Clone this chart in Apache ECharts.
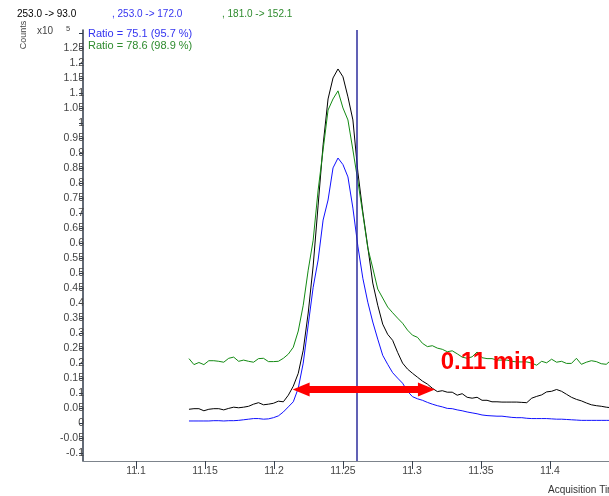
<!DOCTYPE html>
<html lang="en">
<head>
  <meta charset="UTF-8">
  <title>EIC 253.0</title>
  <script src="https://cdn.jsdelivr.net/npm/echarts@6.0.0/dist/echarts.min.js"></script>
  <style>
    html, body { margin: 0; padding: 0; background: #fff; }
    #chart { width: 609px; height: 496px; }
  </style>
</head>
<body>
<div id="chart"></div>
<script>
  // acquisition times (min)
  var times = [11.1384, 11.1420, 11.1456, 11.1492, 11.1528, 11.1564, 11.1600, 11.1636, 11.1672, 11.1708,
    11.1744, 11.1780, 11.1816, 11.1852, 11.1888, 11.1924, 11.1960, 11.1996, 11.2032, 11.2068,
    11.2104, 11.2140, 11.2176, 11.2212, 11.2248, 11.2284, 11.2320, 11.2356, 11.2392, 11.2428,
    11.2464, 11.2500, 11.2536, 11.2572, 11.2608, 11.2644, 11.2680, 11.2716, 11.2752, 11.2788,
    11.2824, 11.2860, 11.2896, 11.2932, 11.2968, 11.3004, 11.3040, 11.3076, 11.3112, 11.3148,
    11.3184, 11.3220, 11.3256, 11.3292, 11.3328, 11.3364, 11.3400, 11.3436, 11.3472, 11.3508,
    11.3544, 11.3580, 11.3616, 11.3652, 11.3688, 11.3724, 11.3760, 11.3796, 11.3832, 11.3868,
    11.3904, 11.3940, 11.3976, 11.4012, 11.4048, 11.4084, 11.4120, 11.4156, 11.4192, 11.4228,
    11.4264, 11.4300, 11.4336, 11.4372, 11.4408, 11.4444];

  // counts x10^5, 253.0 -> 93.0 (black)
  var counts93 = [0.045, 0.047, 0.047, 0.040, 0.045, 0.047, 0.047, 0.043, 0.048, 0.052,
    0.050, 0.052, 0.055, 0.062, 0.067, 0.060, 0.062, 0.065, 0.072, 0.070,
    0.092, 0.122, 0.165, 0.242, 0.366, 0.523, 0.726, 0.927, 1.080, 1.150,
    1.180, 1.154, 1.087, 1.010, 0.836, 0.703, 0.586, 0.466, 0.392, 0.329,
    0.295, 0.275, 0.235, 0.199, 0.179, 0.165, 0.152, 0.139, 0.129, 0.115,
    0.104, 0.107, 0.102, 0.102, 0.092, 0.097, 0.085, 0.082, 0.085, 0.075,
    0.075, 0.070, 0.070, 0.069, 0.069, 0.069, 0.069, 0.068, 0.067, 0.082,
    0.088, 0.093, 0.103, 0.105, 0.111, 0.105, 0.095, 0.085, 0.078, 0.073,
    0.066, 0.060, 0.057, 0.055, 0.052, 0.050];

  // 253.0 -> 172.0 (blue)
  var counts172 = [0.006, 0.006, 0.006, 0.006, 0.006, 0.007, 0.007, 0.006, 0.007, 0.007,
    0.008, 0.010, 0.012, 0.014, 0.014, 0.012, 0.013, 0.017, 0.023, 0.036,
    0.053, 0.070, 0.115, 0.199, 0.326, 0.452, 0.543, 0.676, 0.743, 0.850,
    0.883, 0.861, 0.820, 0.716, 0.589, 0.482, 0.402, 0.336, 0.279, 0.225,
    0.195, 0.167, 0.149, 0.132, 0.105, 0.087, 0.080, 0.075, 0.068, 0.062,
    0.057, 0.053, 0.048, 0.047, 0.043, 0.040, 0.036, 0.033, 0.030, 0.026,
    0.024, 0.023, 0.022, 0.022, 0.020, 0.018, 0.017, 0.017, 0.015, 0.014,
    0.014, 0.014, 0.014, 0.013, 0.012, 0.012, 0.011, 0.010, 0.009, 0.008,
    0.008, 0.008, 0.008, 0.008, 0.008, 0.008];

  // 181.0 -> 152.1 (green)
  var counts152 = [0.214, 0.194, 0.201, 0.194, 0.207, 0.207, 0.205, 0.202, 0.215, 0.219,
    0.205, 0.209, 0.205, 0.202, 0.214, 0.215, 0.204, 0.204, 0.205, 0.215,
    0.229, 0.252, 0.306, 0.392, 0.509, 0.609, 0.776, 0.910, 1.043, 1.080,
    1.107, 1.050, 1.010, 0.910, 0.806, 0.696, 0.583, 0.516, 0.446, 0.416,
    0.386, 0.367, 0.349, 0.332, 0.309, 0.292, 0.285, 0.265, 0.254, 0.257,
    0.249, 0.245, 0.237, 0.240, 0.230, 0.219, 0.215, 0.220, 0.236, 0.217,
    0.214, 0.214, 0.209, 0.209, 0.209, 0.205, 0.203, 0.203, 0.203, 0.199,
    0.192, 0.205, 0.200, 0.212, 0.202, 0.205, 0.198, 0.198, 0.215, 0.195,
    0.202, 0.207, 0.204, 0.197, 0.195, 0.209];

  var xTicks = [11.1, 11.15, 11.2, 11.25, 11.3, 11.35, 11.4];
  var yTicks = [-0.1, -0.05, 0, 0.05, 0.1, 0.15, 0.2, 0.25, 0.3, 0.35, 0.4, 0.45, 0.5, 0.55,
    0.6, 0.65, 0.7, 0.75, 0.8, 0.85, 0.9, 0.95, 1, 1.05, 1.1, 1.15, 1.2, 1.25];
  var yTopTick = 1.3;

  // annotations
  var markerTime = 11.2632;
  var widthArrow = [[11.2197, 0.111], [11.3105, 0.111]];
  var widthLabel = '0.11 min';
  var widthLabelAt = [11.3551, 0.2003];

  var font = '"Liberation Sans", Arial, sans-serif';

  function toPairs(vals) {
    return times.map(function (t, i) { return [t, vals[i]]; });
  }

  var myChart = echarts.init(document.getElementById('chart'), null, {renderer: 'canvas'});

  var option = {
    animation: false,
    backgroundColor: '#fff',
    grid: {left: 83, right: 0, top: 30, bottom: 35},
    xAxis: {
      type: 'value',
      min: 11.0616,
      max: 11.4428,
      splitLine: {show: false},
      axisLine: {onZero: false, lineStyle: {color: '#7d848c', width: 1}},
      axisTick: {customValues: xTicks, length: 8, lineStyle: {color: '#39424e'}},
      axisLabel: {customValues: xTicks, margin: 5, fontSize: 10.5, color: '#444', fontFamily: font}
    },
    yAxis: {
      type: 'value',
      min: -0.1275,
      max: 1.31,
      splitLine: {show: false},
      axisLine: {show: true, onZero: false, lineStyle: {color: '#2f3a4a', width: 1.5}},
      axisTick: {show: true, customValues: yTicks.concat([yTopTick]), length: 4, lineStyle: {color: '#2f3a4a'}},
      axisLabel: {customValues: yTicks, margin: -1, fontSize: 10.5, color: '#444', fontFamily: font}
    },
    graphic: [
      {type: 'text', x: 17, y: 14, style: {text: '253.0 -> 93.0', fill: '#000', font: '10px ' + font, textVerticalAlign: 'middle'}},
      {type: 'text', x: 112, y: 14, style: {text: ', 253.0 -> 172.0', fill: '#3434f0', font: '10px ' + font, textVerticalAlign: 'middle'}},
      {type: 'text', x: 222, y: 14, style: {text: ', 181.0 -> 152.1', fill: '#2e8b2e', font: '10px ' + font, textVerticalAlign: 'middle'}},
      {type: 'text', x: 24, y: 35, rotation: Math.PI / 2, style: {text: 'Counts', fill: '#444', font: '9px ' + font, textAlign: 'center', textVerticalAlign: 'middle'}},
      {type: 'text', x: 37, y: 31, style: {text: 'x10', fill: '#444', font: '10px ' + font, textVerticalAlign: 'middle'}},
      {type: 'text', x: 66, y: 28.5, style: {text: '5', fill: '#444', font: '7.5px ' + font, textVerticalAlign: 'middle'}},
      {type: 'text', x: 88, y: 33.5, style: {text: 'Ratio = 75.1 (95.7 %)', fill: '#3434f0', font: '11px ' + font, textVerticalAlign: 'middle'}},
      {type: 'text', x: 88, y: 45.5, style: {text: 'Ratio = 78.6 (98.9 %)', fill: '#2e8b2e', font: '11px ' + font, textVerticalAlign: 'middle'}},
      {type: 'text', x: 548, y: 490, style: {text: 'Acquisition Time (min)', fill: '#333', font: '10px ' + font, textVerticalAlign: 'middle'}}
    ],
    series: [
      {
        name: '253.0 -> 93.0',
        type: 'line',
        data: toPairs(counts93),
        showSymbol: false,
        lineStyle: {color: '#000', width: 1},
        markLine: {
          silent: true,
          symbol: 'none',
          label: {show: false},
          lineStyle: {color: '#2d2d9c', width: 1.5, type: 'solid'},
          data: [{xAxis: markerTime}]
        }
      },
      {
        name: '253.0 -> 172.0',
        type: 'line',
        data: toPairs(counts172),
        showSymbol: false,
        lineStyle: {color: '#1010ff', width: 1}
      },
      {
        name: '181.0 -> 152.1',
        type: 'line',
        data: toPairs(counts152),
        showSymbol: false,
        lineStyle: {color: '#138a13', width: 1},
        markLine: {
          silent: true,
          symbol: ['triangle', 'triangle'],
          symbolSize: [14, 17],
          label: {show: false},
          lineStyle: {color: '#ff0000', width: 7, type: 'solid'},
          itemStyle: {color: '#ff0000'},
          data: [[{coord: widthArrow[0]}, {coord: widthArrow[1]}]]
        },
        markPoint: {
          silent: true,
          symbol: 'circle',
          symbolSize: 1,
          itemStyle: {color: 'rgba(0,0,0,0)'},
          label: {
            show: true,
            position: 'inside',
            formatter: widthLabel,
            color: '#ff0000',
            fontSize: 24,
            fontWeight: 'bold',
            fontFamily: font
          },
          data: [{coord: widthLabelAt}]
        }
      }
    ]
  };

  option && myChart.setOption(option);
</script>
</body>
</html>
